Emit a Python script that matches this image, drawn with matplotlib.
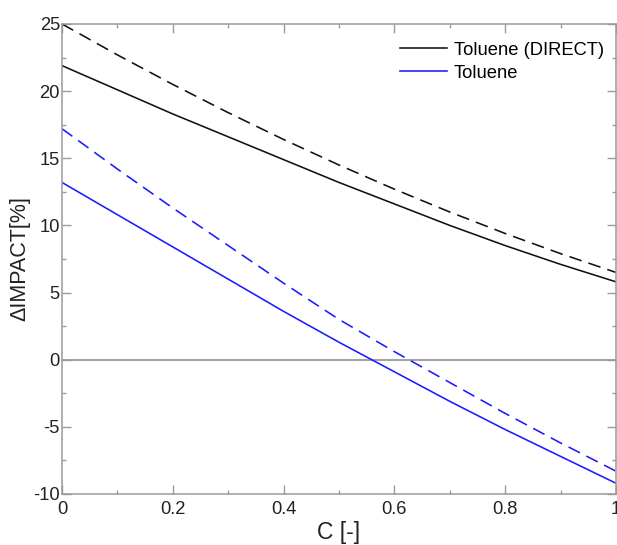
import matplotlib
matplotlib.use("Agg")
import matplotlib.pyplot as plt
from matplotlib.ticker import MultipleLocator

plt.rcParams['font.family'] = ['Liberation Sans', 'DejaVu Sans']
plt.rcParams['axes.unicode_minus'] = False

C = [0.0, 0.1, 0.2, 0.3, 0.4, 0.5, 0.6, 0.7, 0.8, 0.9, 1.0]
direct_solid = [21.9, 20.1, 18.3, 16.6, 14.9, 13.2, 11.6, 10.0, 8.5, 7.1, 5.8]
direct_dashed = [25.0, 22.7, 20.5, 18.4, 16.4, 14.5, 12.7, 11.0, 9.4, 7.9, 6.5]
toluene_solid = [13.2, 10.8, 8.4, 6.0, 3.6, 1.3, -0.9, -3.1, -5.2, -7.2, -9.2]
toluene_dashed = [17.2, 14.2, 11.3, 8.5, 5.7, 3.0, 0.6, -1.7, -4.0, -6.2, -8.3]

W, H = 617, 545
fig = plt.figure(figsize=(W / 100, H / 100), dpi=100)
ax = fig.add_axes([62 / W, (H - 494) / H, 554 / W, 470 / H])

black = '#111111'
blue = '#1a1aff'
lw = 1.15
dash = (0, (8, 4.5))

ax.axhline(0, color='#888888', lw=1.1, zorder=1)
ax.plot(C, direct_solid, color=black, lw=lw, label='Toluene (DIRECT)')
ax.plot(C, toluene_solid, color=blue, lw=lw, label='Toluene')
ax.plot(C, direct_dashed, color=black, lw=lw, linestyle=dash)
ax.plot(C, toluene_dashed, color=blue, lw=lw, linestyle=dash)

ax.set_xlim(0, 1)
ax.set_ylim(-10, 25)
ax.xaxis.set_minor_locator(MultipleLocator(0.1))
ax.yaxis.set_major_locator(MultipleLocator(5))
ax.yaxis.set_minor_locator(MultipleLocator(2.5))
ax.set_xticks([0, 0.2, 0.4, 0.6, 0.8, 1.0])
ax.set_xticklabels(['0', '0.2', '0.4', '0.6', '0.8', '1'])

spine_c = '#9a9a9a'
for s in ax.spines.values():
    s.set_color(spine_c)
    s.set_linewidth(1.1)
ax.tick_params(which='both', direction='in', top=True, right=True,
               color=spine_c, width=1.0, labelsize=13.2, labelcolor='#222222')
ax.tick_params(which='major', length=6.5)
ax.tick_params(which='minor', length=3)
ax.tick_params(axis='y', pad=1.5)
ax.tick_params(axis='x', pad=5)

ax.set_xlabel('C [-]', fontsize=16.5, labelpad=2, color='#222222')
ax.set_ylabel('ΔIMPACT[%]', fontsize=15.5, labelpad=2, color='#222222')

ax.legend(loc='upper right', bbox_to_anchor=(1 + 7 / 554, 1 + 1 / 470),
          frameon=False, fontsize=13.2,
          handlelength=2.56, handletextpad=0.38, labelspacing=0.32,
          borderaxespad=0.63, borderpad=0.4)

fig.savefig('out.png', dpi=100)
